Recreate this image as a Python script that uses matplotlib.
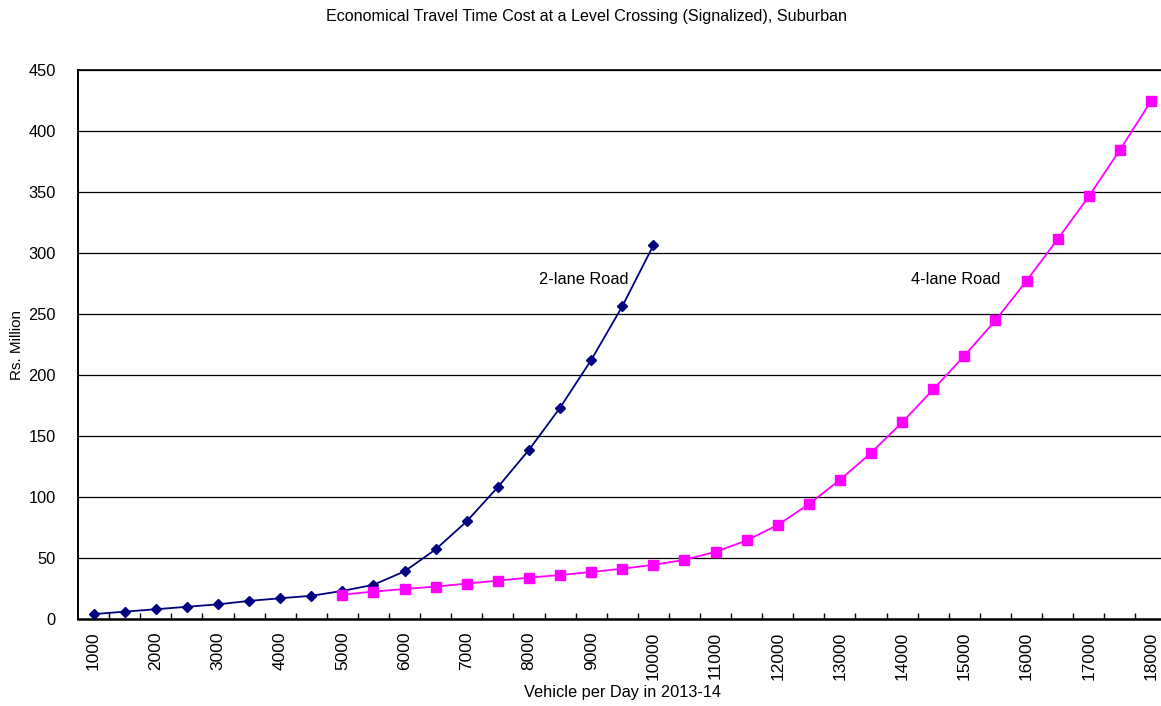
import matplotlib
matplotlib.use("Agg")
import matplotlib.pyplot as plt
from matplotlib.ticker import FixedLocator

plt.rcParams['font.family'] = ['Liberation Sans', 'DejaVu Sans']

# ---- data ----
categories = [1000, 1500, 2000, 2500, 3000, 3500, 4000, 4500, 5000, 5500,
              6000, 6500, 7000, 7500, 8000, 8500, 9000, 9500, 10000, 10500,
              11000, 11500, 12000, 12500, 13000, 13500, 14000, 14500, 15000, 15500,
              16000, 16500, 17000, 17500, 18000]
two_lane_x = [1000, 1500, 2000, 2500, 3000, 3500, 4000, 4500, 5000, 5500,
              6000, 6500, 7000, 7500, 8000, 8500, 9000, 9500, 10000]
two_lane = [4, 6, 8, 10, 12, 14.8, 17, 19, 23, 28,
            39, 57, 80, 108, 138.5, 173, 212, 256, 306]
four_lane_x = [5000, 5500, 6000, 6500, 7000, 7500, 8000, 8500, 9000, 9500,
               10000, 10500, 11000, 11500, 12000, 12500, 13000, 13500, 14000, 14500,
               15000, 15500, 16000, 16500, 17000, 17500, 18000]
four_lane = [20, 22.4, 24.6, 26.5, 29, 31.4, 33.9, 36, 38.5, 41.2,
             44.3, 48.4, 55, 64.3, 77, 94, 114, 136, 161, 188,
             215.6, 244.5, 277, 311, 346, 384, 424]
tick_labels = ['1000', '2000', '3000', '4000', '5000', '6000', '7000', '8000', '9000',
               '10000', '11000', '12000', '13000', '14000', '15000', '16000', '17000', '18000']
y_ticks = [0, 50, 100, 150, 200, 250, 300, 350, 400, 450]

title = "Economical Travel Time Cost at a Level Crossing (Signalized), Suburban"

# ---- figure ----
W, H = 1161, 706
fig = plt.figure(figsize=(W / 100, H / 100), dpi=100)
ax = fig.add_axes([78 / W, 1 - 619 / H, 1088.5 / W, 549.5 / H])

idx = {c: i for i, c in enumerate(categories)}
x2 = [idx[v] for v in two_lane_x]
x4 = [idx[v] for v in four_lane_x]

ax.plot(x2, two_lane, color='#000080', lw=1.3, marker='D', ms=5.5,
        markeredgecolor='#000080', markerfacecolor='#000080', zorder=3, clip_on=False)
ax.plot(x4, four_lane, color='#FF00FF', lw=1.3, marker='s', ms=6.8,
        markeredgecolor='#FF00FF', markerfacecolor='#FF00FF', zorder=3, clip_on=False)

ax.set_xlim(-0.5, len(categories) - 0.5)
ax.set_ylim(0, 450)

# x ticks: marks between categories, labels at every other category
ax.xaxis.set_major_locator(FixedLocator([i + 0.5 for i in range(len(categories) - 1)]))
ax.set_xticklabels([])
ax.tick_params(axis='x', which='major', direction='in', length=4, width=1, color='black')
label_pos = [idx[int(t)] for t in tick_labels]
ax.xaxis.set_minor_locator(FixedLocator(label_pos))
ax.set_xticklabels(tick_labels, minor=True, rotation=90, fontsize=12.5)
ax.tick_params(axis='x', which='minor', length=0, pad=9)

ax.set_yticks(y_ticks)
ax.set_yticklabels([str(v) for v in y_ticks], fontsize=11.8)
ax.tick_params(axis='y', length=0, pad=16)

ax.yaxis.grid(True, color='black', lw=0.9)
ax.set_axisbelow(True)

for s in ['top', 'right']:
    ax.spines[s].set_visible(False)
ax.spines['left'].set_linewidth(1.4)
ax.spines['bottom'].set_linewidth(1.8)

ax.axhline(450, color='black', lw=1.2, clip_on=False, zorder=1)

ax.text(15.76, 278, '2-lane Road', ha='center', va='center', fontsize=11.8)
ax.text(27.72, 278.4, '4-lane Road', ha='center', va='center', fontsize=11.8)

fig.text(586 / W, 1 - 17 / H, title, ha='center', va='center', fontsize=11.6)
fig.text(622 / W, 1 - 692 / H, 'Vehicle per Day in 2013-14', ha='center', va='center',
         fontsize=11.8)
fig.text(17 / W, 1 - 345 / H, 'Rs. Million', ha='center', va='center', rotation=90,
         fontsize=11)

fig.savefig('out.png', dpi=100)
